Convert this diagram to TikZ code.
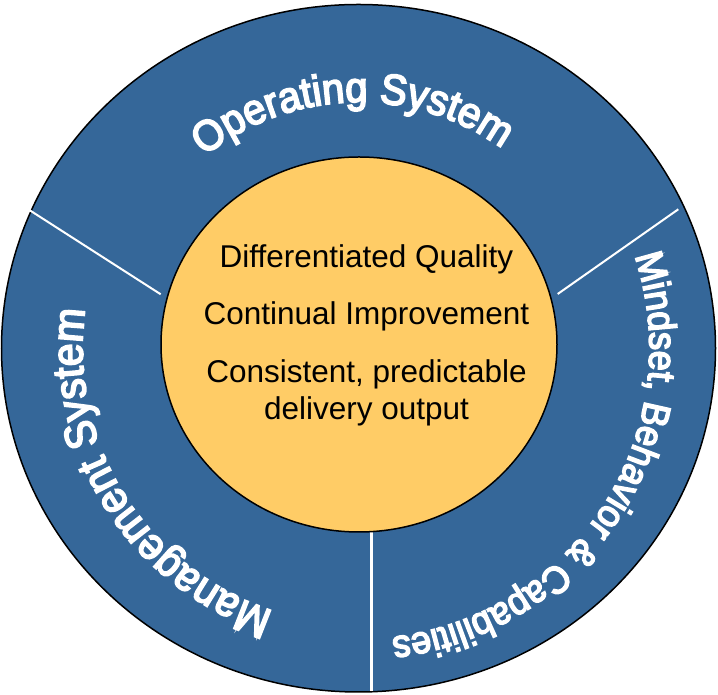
\documentclass[tikz,border=0pt]{standalone}
\usepackage{fontspec}
\setmainfont{Liberation Sans}
% heavier, slightly condensed face for the lettering on the ring
\newfontfamily\ringfont[FakeBold=4,FakeStretch=0.93]{Liberation Sans}
\usetikzlibrary{calc,decorations.text}
\definecolor{ringblue}{RGB}{53,103,153}
\definecolor{coreyellow}{RGB}{255,204,102}
\begin{document}
\begin{tikzpicture}[x=1pt,y=1pt,
  ring/.style={fill=ringblue, draw=black, line width=1.5pt},
  core/.style={fill=coreyellow, draw=black, line width=1.5pt},
  divider/.style={draw=white, line width=2pt},
  coretext/.style={anchor=base, inner sep=0pt, font=\fontsize{31.5}{31.5}\selectfont},
  ringlabel/.style 2 args={decorate, decoration={text along path,
      text align=center, text color=white,
      text={|\ringfont\fontsize{#1}{#1}\selectfont|#2}}}]
\useasboundingbox (0,0) rectangle (718,695);

% centres of the outer ring and the inner core
\coordinate (ctr) at (358.5,346.75);
\coordinate (corectr) at (359,350.5);

% outer blue ring
\path[ring] (ctr) ellipse [x radius=357, y radius=343.75];

% white dividers between the three ring segments
\coordinate (d1a) at (29.3,485);
\coordinate (d1b) at (160.7,400.7);
\coordinate (d2a) at (678.3,485.7);
\coordinate (d2b) at (557.7,401);
\coordinate (d3a) at (371,163.3);
\coordinate (d3b) at (371,3.5);
\draw[divider] (d1a) -- (d1b);
\draw[divider] (d2a) -- (d2b);
\draw[divider, line width=3pt] (d3a) -- (d3b);

% inner yellow core
\path[core] (corectr) ellipse [x radius=198, y radius=187.5];

% core statements
\node[coretext] (q1) at (366.5,427) {Differentiated Quality};
\node[coretext] (q2) at (366.5,370) {Continual Improvement};
\node[coretext] (q3) at (366.5,312) {Consistent, predictable};
\node[coretext] (q4) at (366.5,275) {delivery output};

% curved ring labels (clockwise, letters facing outward)
\path[ringlabel={43}{Operating System}]
  ($(ctr)+(151.5:246)$) arc[start angle=151.5, end angle=31.5, radius=246];
\path[ringlabel={38.7}{Mindset, Behavior {\&} Capabilities}]
  ($(ctr)+(32.5:291)$) arc[start angle=32.5, end angle=-97.5, radius=291];
\path[ringlabel={44}{Management System}]
  ($(ctr)+(272:276)$) arc[start angle=272, end angle=152, radius=276];
\end{tikzpicture}
\end{document}
